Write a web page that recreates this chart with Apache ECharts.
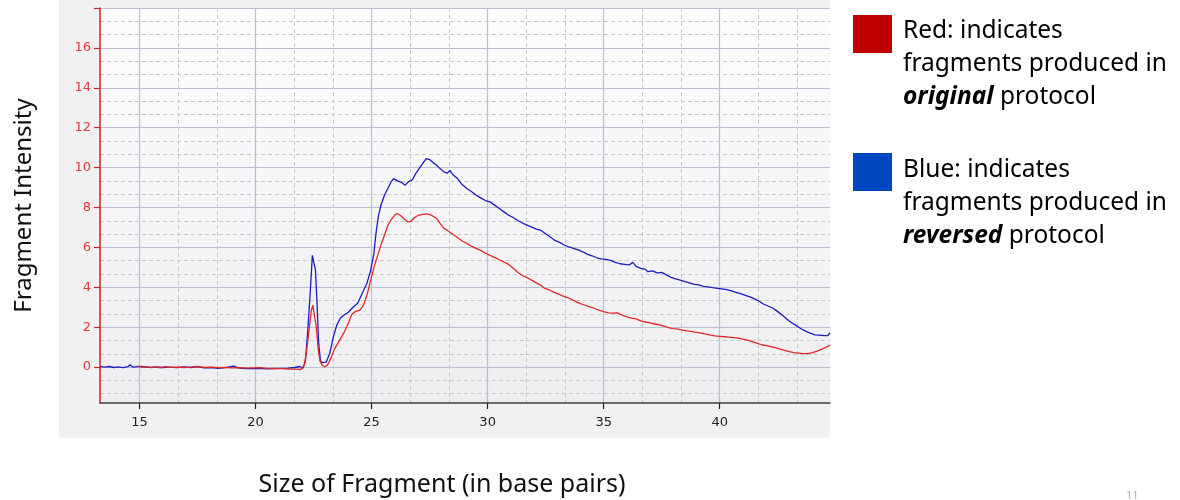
<!DOCTYPE html>
<html>
<head>
<meta charset="utf-8">
<title>Fragment Intensity</title>
<script src="https://cdn.jsdelivr.net/npm/echarts/dist/echarts.min.js"></script>
<style>
  html, body { margin: 0; padding: 0; background: #fff; }
  #chart { width: 1180px; height: 500px; }
</style>
</head>
<body>
<div id="chart"></div>
<script>
// size of fragment (bp) / intensity
const blueX = [13.3, 13.5, 13.7, 13.9, 14.1, 14.3, 14.5, 14.6, 14.7, 14.9, 15.1, 15.4, 15.7, 16.0, 16.3, 16.6, 16.9, 17.2, 17.5, 17.8,
  18.1, 18.4, 18.7, 19.05, 19.3, 19.6, 19.9, 20.2, 20.5, 20.8, 21.1, 21.4, 21.7, 21.9, 22.05, 22.15, 22.25, 22.35, 22.45, 22.52,
  22.58, 22.65, 22.72, 22.8, 22.9, 23.05, 23.2, 23.35, 23.5, 23.65, 23.8, 24.0, 24.2, 24.4, 24.6, 24.8, 24.95, 25.1, 25.2, 25.3,
  25.4, 25.55, 25.7, 25.85, 25.95, 26.1, 26.3, 26.45, 26.6, 26.75, 26.9, 27.05, 27.2, 27.35, 27.5, 27.65, 27.8, 27.95, 28.1, 28.25,
  28.38, 28.5, 28.7, 28.9, 29.1, 29.3, 29.5, 29.7, 29.9, 30.1, 30.3, 30.5, 30.7, 30.9, 31.1, 31.3, 31.5, 31.7, 31.9, 32.1,
  32.3, 32.5, 32.7, 32.9, 33.1, 33.3, 33.5, 33.7, 33.9, 34.1, 34.3, 34.5, 34.7, 34.9, 35.1, 35.3, 35.5, 35.7, 35.9, 36.1,
  36.25, 36.4, 36.6, 36.8, 36.9, 37.1, 37.3, 37.5, 37.7, 37.9, 38.1, 38.3, 38.5, 38.7, 38.9, 39.1, 39.3, 39.5, 39.7, 39.9,
  40.1, 40.3, 40.5, 40.7, 40.9, 41.1, 41.3, 41.5, 41.7, 41.9, 42.1, 42.3, 42.5, 42.7, 42.9, 43.1, 43.3, 43.5, 43.7, 43.9,
  44.1, 44.3, 44.5, 44.65, 44.75]
const blueY = [0.02, 0.0, 0.03, -0.02, 0.01, -0.03, 0.02, 0.12, 0.0, 0.02, 0.03, -0.01, 0.01, -0.02, 0.0, -0.03, 0.01, -0.02, 0.02, -0.04,
  -0.02, -0.06, -0.03, 0.05, -0.05, -0.07, -0.08, -0.06, -0.09, -0.08, -0.06, -0.05, -0.02, 0.03, -0.05, 0.3, 1.8, 3.6, 5.6, 5.2,
  4.9, 3.2, 1.2, 0.3, 0.22, 0.25, 0.7, 1.5, 2.1, 2.45, 2.6, 2.75, 3.0, 3.2, 3.7, 4.2, 4.8, 5.7, 6.8, 7.6,
  8.1, 8.6, 8.95, 9.3, 9.45, 9.35, 9.25, 9.12, 9.3, 9.38, 9.7, 9.95, 10.2, 10.45, 10.4, 10.25, 10.12, 9.95, 9.8, 9.72,
  9.85, 9.65, 9.45, 9.15, 8.95, 8.8, 8.62, 8.48, 8.35, 8.28, 8.12, 7.95, 7.78, 7.62, 7.5, 7.35, 7.22, 7.12, 7.02, 6.92,
  6.85, 6.68, 6.52, 6.35, 6.25, 6.12, 6.02, 5.95, 5.88, 5.78, 5.65, 5.58, 5.48, 5.42, 5.4, 5.35, 5.25, 5.18, 5.15, 5.12,
  5.25, 5.05, 4.95, 4.9, 4.78, 4.82, 4.72, 4.75, 4.62, 4.5, 4.42, 4.36, 4.28, 4.22, 4.15, 4.12, 4.05, 4.02, 3.98, 3.95,
  3.92, 3.88, 3.82, 3.75, 3.68, 3.6, 3.52, 3.42, 3.3, 3.15, 3.05, 2.95, 2.78, 2.6, 2.4, 2.22, 2.08, 1.92, 1.8, 1.7,
  1.62, 1.6, 1.58, 1.58, 1.72]

const redX = [14.9, 15.1, 15.3, 15.5, 15.7, 15.9, 16.1, 16.3, 16.6, 16.9, 17.2, 17.5, 17.8, 18.1, 18.4, 18.7, 19.0, 19.3, 19.6, 19.9,
  20.2, 20.5, 20.8, 21.1, 21.4, 21.7, 21.95, 22.1, 22.2, 22.3, 22.4, 22.47, 22.55, 22.62, 22.7, 22.78, 22.88, 22.98, 23.1, 23.25,
  23.4, 23.6, 23.8, 24.0, 24.15, 24.3, 24.5, 24.65, 24.8, 24.95, 25.1, 25.25, 25.4, 25.55, 25.7, 25.85, 26.0, 26.1, 26.25, 26.4,
  26.55, 26.7, 26.85, 27.0, 27.2, 27.4, 27.6, 27.8, 27.95, 28.1, 28.3, 28.5, 28.7, 28.9, 29.1, 29.3, 29.5, 29.7, 29.9, 30.1,
  30.3, 30.5, 30.7, 30.9, 31.1, 31.3, 31.5, 31.7, 31.9, 32.1, 32.3, 32.45, 32.6, 32.8, 33.0, 33.2, 33.4, 33.6, 33.8, 34.0,
  34.2, 34.4, 34.6, 34.8, 35.0, 35.2, 35.4, 35.6, 35.8, 36.0, 36.2, 36.4, 36.6, 36.8, 37.0, 37.2, 37.4, 37.6, 37.8, 38.0,
  38.2, 38.4, 38.6, 38.8, 39.0, 39.2, 39.4, 39.6, 39.8, 40.0, 40.2, 40.4, 40.6, 40.8, 41.0, 41.2, 41.4, 41.6, 41.8, 42.0,
  42.2, 42.4, 42.6, 42.8, 43.0, 43.2, 43.4, 43.6, 43.8, 44.0, 44.2, 44.4, 44.6, 44.75]
const redY = [0.05, 0.0, 0.02, -0.03, 0.0, -0.04, 0.02, -0.01, 0.0, -0.02, 0.0, 0.03, -0.02, 0.0, -0.03, -0.02, -0.04, -0.03, -0.05, -0.04,
  -0.03, -0.06, -0.07, -0.08, -0.1, -0.1, -0.12, 0.1, 0.8, 1.8, 2.8, 3.1, 2.5, 2.0, 0.9, 0.3, 0.08, 0.02, 0.1, 0.45,
  0.9, 1.3, 1.7, 2.2, 2.65, 2.78, 2.85, 3.1, 3.6, 4.3, 5.0, 5.55, 6.1, 6.6, 7.1, 7.4, 7.62, 7.7, 7.6, 7.42,
  7.28, 7.3, 7.5, 7.6, 7.65, 7.68, 7.6, 7.45, 7.2, 6.98, 6.82, 6.66, 6.5, 6.32, 6.2, 6.06, 5.95, 5.85, 5.72, 5.6,
  5.5, 5.38, 5.27, 5.15, 4.95, 4.75, 4.58, 4.48, 4.36, 4.22, 4.1, 3.95, 3.9, 3.78, 3.68, 3.58, 3.5, 3.4, 3.28, 3.18,
  3.1, 3.02, 2.95, 2.85, 2.78, 2.72, 2.7, 2.72, 2.6, 2.52, 2.45, 2.42, 2.32, 2.26, 2.22, 2.16, 2.12, 2.05, 1.98, 1.93,
  1.9, 1.85, 1.82, 1.78, 1.74, 1.7, 1.65, 1.6, 1.56, 1.54, 1.52, 1.5, 1.48, 1.45, 1.4, 1.35, 1.28, 1.2, 1.12, 1.08,
  1.02, 0.98, 0.9, 0.84, 0.78, 0.72, 0.7, 0.68, 0.68, 0.72, 0.8, 0.9, 1.0, 1.1]

const xMajorTicks = [15, 20, 25, 30, 35, 40]
const xMinorTicks = [16.667, 18.333, 21.667, 23.333, 26.667, 28.333, 31.667, 33.333, 36.667, 38.333, 41.667, 43.333]
const yMajorTicks = [0, 2, 4, 6, 8, 10, 12, 14, 16, 18]
const yTickLabels = [0, 2, 4, 6, 8, 10, 12, 14, 16]
const yMinorTicks = [-1.333, -0.667, 0.667, 1.333, 2.667, 3.333, 4.667, 5.333, 6.667, 7.333, 8.667, 9.333,
  10.667, 11.333, 12.667, 13.333, 14.667, 15.333, 16.667, 17.333]

const xRange = [13.3, 44.75]
const yRange = [-1.8, 18]

let chart = echarts.init(document.getElementById('chart'))

function zip(xs, ys) {
  return xs.map((x, i) => [x, ys[i]])
}

let option = {
  animation: false,
  backgroundColor: '#fff',
  grid: {
    left: 100,
    right: 350,
    top: 8,
    bottom: 97,
    containLabel: false,
    outerBoundsMode: 'none',
    show: true,
    borderWidth: 0,
    backgroundColor: {
      type: 'linear', x: 0, y: 0, x2: 0, y2: 1,
      colorStops: [{ offset: 0, color: '#fdfdfe' }, { offset: 1, color: '#eeeef0' }],
    },
  },
  xAxis: [
    {
      // minor dashed grid
      type: 'value',
      min: xRange[0],
      max: xRange[1],
      axisLine: { show: false },
      axisLabel: { show: false },
      axisTick: { show: false, customValues: xMinorTicks },
      splitLine: { show: true, lineStyle: { color: '#c9c9cc', type: [4, 3], width: 1 } },
    },
    {
      type: 'value',
      position: 'bottom',
      min: xRange[0],
      max: xRange[1],
      axisLine: { show: true, onZero: false, lineStyle: { color: '#404040', width: 1.5 } },
      axisTick: { show: true, length: 6, customValues: xMajorTicks, lineStyle: { color: '#202020', width: 1.2 } },
      axisLabel: {
        customValues: xMajorTicks,
        color: '#222',
        fontFamily: 'DejaVu Sans',
        fontSize: 13,
        margin: 13,
      },
      splitLine: { show: true, lineStyle: { color: '#b9c0cf', width: 1.2 } },
    },
  ],
  yAxis: [
    {
      type: 'value',
      min: yRange[0],
      max: yRange[1],
      axisLine: { show: false },
      axisLabel: { show: false },
      axisTick: { show: false, customValues: yMinorTicks },
      splitLine: { show: true, lineStyle: { color: '#c9c9cc', type: [4, 3], width: 1 } },
    },
    {
      type: 'value',
      position: 'left',
      min: yRange[0],
      max: yRange[1],
      name: 'Fragment Intensity',
      nameLocation: 'middle',
      nameGap: 64,
      nameRotate: 90,
      nameTextStyle: { fontFamily: 'Noto Sans', fontSize: 24, color: '#111' },
      axisLine: { show: true, onZero: false, lineStyle: { color: '#d42020', width: 1.5 } },
      axisTick: { show: true, length: 6, customValues: yMajorTicks, lineStyle: { color: '#d42020', width: 1.2 } },
      axisLabel: {
        customValues: yTickLabels,
        color: '#e03a3a',
        fontFamily: 'DejaVu Sans',
        fontSize: 13,
        margin: 9,
      },
      splitLine: { show: true, lineStyle: { color: '#b9c0cf', width: 1.2 } },
    },
  ],
  series: [
    {
      name: 'reversed',
      type: 'line',
      xAxisIndex: 1,
      yAxisIndex: 1,
      showSymbol: false,
      lineStyle: { color: '#1c1cbf', width: 1.3 },
      data: zip(blueX, blueY),
    },
    {
      name: 'original',
      type: 'line',
      xAxisIndex: 1,
      yAxisIndex: 1,
      showSymbol: false,
      lineStyle: { color: '#e02828', width: 1.3 },
      data: zip(redX, redY),
    },
  ],
  graphic: [
    {
      type: 'rect',
      z: -10,
      silent: true,
      shape: { x: 59, y: 0, width: 771, height: 438 },
      style: { fill: '#f1f1f2' },
    },
    {
      type: 'text',
      x: 442,
      y: 485,
      style: {
        text: 'Size of Fragment (in base pairs)',
        font: '25px "Noto Sans"',
        fill: '#111',
        align: 'center',
        verticalAlign: 'middle',
      },
    },
    {
      type: 'rect',
      shape: { x: 853, y: 15, width: 39, height: 38 },
      style: { fill: '#c00000' },
    },
    {
      type: 'rect',
      shape: { x: 853, y: 153, width: 39, height: 38 },
      style: { fill: '#0047c0' },
    },
    {
      type: 'text',
      x: 903,
      y: 15,
      style: {
        text: 'Red: indicates\nfragments produced in\n{bi|original} protocol',
        font: '24.5px "Noto Sans"',
        fill: '#000',
        lineHeight: 33,
        rich: {
          bi: { fontFamily: 'Noto Sans', fontSize: 24.5, fontWeight: 'bold', fontStyle: 'italic', lineHeight: 33 },
        },
      },
    },
    {
      type: 'text',
      x: 903,
      y: 154,
      style: {
        text: 'Blue: indicates\nfragments produced in\n{bi|reversed} protocol',
        font: '24.5px "Noto Sans"',
        fill: '#000',
        lineHeight: 33,
        rich: {
          bi: { fontFamily: 'Noto Sans', fontSize: 24.5, fontWeight: 'bold', fontStyle: 'italic', lineHeight: 33 },
        },
      },
    },
    {
      type: 'text',
      x: 1126,
      y: 490,
      style: { text: '11', font: '11px "Noto Sans"', fill: '#b0b0b0' },
    },
  ],
}

chart.setOption(option)
</script>
</body>
</html>
